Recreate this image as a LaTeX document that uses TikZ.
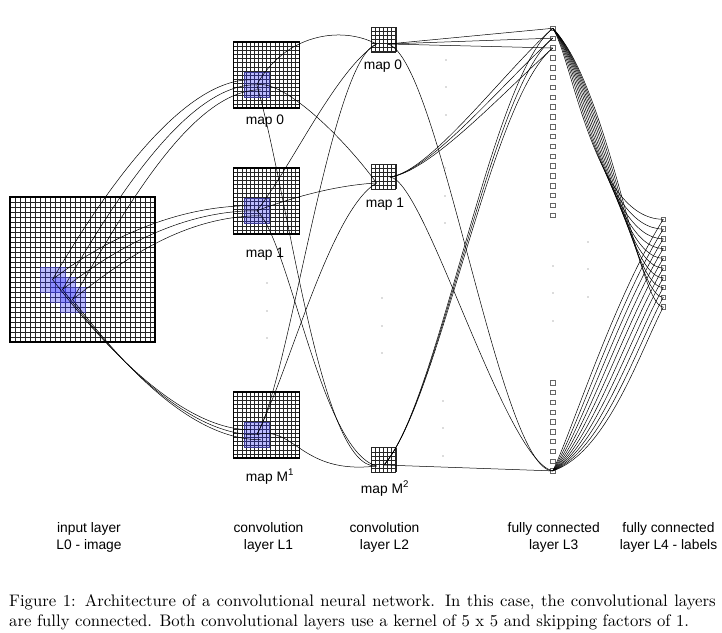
\documentclass[tikz,border=0pt]{standalone}
\usepackage{fontspec}
\newfontfamily\labfont{Liberation Sans}
\newfontfamily\capfont{lmroman10-regular}[Extension=.otf]
\usetikzlibrary{calc}
\begin{document}
\begin{tikzpicture}[x=1pt,y=-1pt,
  gridln/.style={black!85, line width=0.5pt},
  bigframe/.style={draw=black, line width=1.6pt},
  smallframe/.style={draw=black!85, line width=0.9pt},
  kern/.style={fill=blue!80, fill opacity=0.33, draw={rgb,255:red,60;green,60;blue,150}, line width=0.7pt},
  conn/.style={line width=0.5pt, black},
  neuron/.style={draw=black!60, line width=0.7pt, minimum size=4.5pt, inner sep=0pt},
  dotn/.style={circle, fill=black!60, inner sep=0pt, minimum size=1.1pt},
  lab/.style={font=\labfont\fontsize{13.8}{16}\selectfont, inner sep=0pt, anchor=base},
  captext/.style={font=\capfont\fontsize{16.7}{19}\selectfont, inner sep=0pt, anchor=base west},
]
\useasboundingbox (0,0) rectangle (722,632);

% ---------- input layer grid ----------
\foreach \i in {0,...,29} {
  \draw[gridln] ({10+5*\i},197) -- ({10+5*\i},342);
  \draw[gridln] (10,{197+5*\i}) -- (155,{197+5*\i});
}
\draw[bigframe] (10,197) rectangle (155,342);
\draw[kern] (40,267) rectangle ++(25,25);
\draw[kern] (50,277) rectangle ++(25,25);
\draw[kern] (60,287) rectangle ++(25,25);

% ---------- L1 maps ----------
\foreach \yo in {42,168,392} {
  \foreach \i in {0,...,16} {
    \draw[gridln] ({233.5+4.125*\i},\yo) -- ({233.5+4.125*\i},{\yo+66});
    \draw[gridln] (233.5,{\yo+4.125*\i}) -- (299.5,{\yo+4.125*\i});
  }
  \draw[bigframe] (233.5,\yo) rectangle (299.5,{\yo+66});
  \draw[kern] (244.5,{\yo+30.5}) rectangle ++(24.5,24.5);
}

% ---------- L2 maps ----------
\foreach \yo in {27,164.3,447.7} {
  \foreach \i in {0,...,6} {
    \draw[gridln] ({371+4.125*\i},\yo) -- ({371+4.125*\i},{\yo+24.75});
    \draw[gridln] (371,{\yo+4.125*\i}) -- (395.75,{\yo+4.125*\i});
  }
  \draw[smallframe] (371,\yo) rectangle (395.75,{\yo+24.75});
}

% ---------- L3 and L4 neurons ----------
\foreach \i in {0,...,19} \node[neuron] (t\i) at (552.7,{28.3+9.84*\i}) {};
\foreach \j in {0,...,9} \node[neuron] (b\j) at (552.7,{382.7+9.8*\j}) {};
\foreach \k in {0,...,9} \node[neuron] (u\k) at (663.3,{219.3+9.75*\k}) {};

% ---------- connection points ----------
\coordinate (s1) at (52.5,279.5);
\coordinate (s2) at (62.5,289.5);
\coordinate (s3) at (72.5,299.5);
\coordinate (cA) at (256.75,84.75);
\coordinate (cB) at (256.75,210.75);
\coordinate (cC) at (256.75,434.75);
\foreach \m in {A,B,C} {
  \coordinate (e\m1) at ($(c\m)+(-6,-5)$);
  \coordinate (e\m2) at ($(c\m)+(-1,0)$);
  \coordinate (e\m3) at ($(c\m)+(4,5)$);
}
\coordinate (dA) at (376.5,44);
\coordinate (dB) at (376.5,183);
\coordinate (dC) at (376.5,466);
\coordinate (oA) at (388,44);
\coordinate (oB) at (390,177);
\coordinate (oC) at (384,465);

% ---------- input -> L1 ----------
\foreach \i in {1,2,3} {
  \draw[conn] (s\i) .. controls ($(s\i)+(50,-85)$) and ($(eA\i)+(-70,0)$) .. (eA\i);
  \draw[conn] (s\i) .. controls ($(s\i)+(45,-35)$) and ($(eB\i)+(-80,0)$) .. (eB\i);
  \draw[conn] (s\i) .. controls ($(s\i)+(50,65)$) and ($(eC\i)+(-70,0)$) .. (eC\i);
}

% ---------- L1 -> L2 ----------
\draw[conn] (cA) .. controls ($(cA)+(28,-50)$) and ($(dA)+(-36,-19)$) .. (dA);
\draw[conn] (cA) .. controls ($(cA)+(28,-5)$) and ($(dB)+(-31,-43)$) .. (dB);
\draw[conn] (cA) .. controls ($(cA)+(33,115)$) and ($(dC)+(-56,4)$) .. (dC);
\draw[conn] (cB) .. controls ($(cB)+(33,-41)$) and ($(dA)+(-41,26)$) .. (dA);
\draw[conn] (cB) .. controls ($(cB)+(43,-16)$) and ($(dB)+(-36,2)$) .. (dB);
\draw[conn] (cB) .. controls ($(cB)+(33,29)$) and ($(dC)+(-56,-16)$) .. (dC);
\draw[conn] (cC) .. controls ($(cC)+(33,-55)$) and ($(dA)+(-46,16)$) .. (dA);
\draw[conn] (cC) .. controls ($(cC)+(33,-65)$) and ($(dB)+(-46,27)$) .. (dB);
\draw[conn] (cC) .. controls ($(cC)+(38,-10)$) and ($(dC)+(-76,9)$) .. (dC);

% ---------- L2 -> L3 ----------
\foreach \j in {0,1,2} {
  \draw[conn] (oA) -- (t\j.center);
  \draw[conn] (oB) .. controls ($(oB)+(40,-5)$) and ($(t\j.center)+(-50,45)$) .. (t\j.center);
  \draw[conn] (oC) .. controls ($(oC)+(56,-65)$) and ($(t\j.center)+(-63,52)$) .. (t\j.center);
}
\draw[conn] (oA) .. controls ($(oA)+(52,16)$) and ($(b9.center)+(-53,0)$) .. (b9.center);
\draw[conn] (oB) .. controls ($(oB)+(35,3)$) and ($(b9.center)+(-48,-11)$) .. (b9.center);
\draw[conn] (oC) -- (b9.center);

% ---------- L3 -> L4 ----------
\foreach \k in {0,...,9} {
  \draw[conn] (t0.center) .. controls ($(t0.center)+({20+4*\k},{30+3*\k})$) and ($(u\k.center)+({-70+5*\k},0)$) .. (u\k.center);
  \draw[conn] (b9.center) .. controls ($(b9.center)+({18+4*\k},{-36+2*\k})$) and ($(u\k.center)+({-50+3*\k},{80-4*\k})$) .. (u\k.center);
}

% ---------- dots ----------
\foreach \p [count=\n] in {(267,283),(267,311),(267,338),(382,298),(382,326),(382,353),
  (446,60),(446,87),(446,115),(445,168),(445,196),(445,223),(443,401),(443,428),(443,456),
  (553,266),(553,293),(553,321),(588,242),(588,269),(588,297)}
  \node[dotn] (dot\n) at \p {};

% ---------- labels ----------
\node[lab] (lA) at (265,124) {map 0};
\node[lab] (lB) at (265,257) {map 1};
\node[lab] (lC) at (270,481) {map M\textsuperscript{1}};
\node[lab] (mA) at (383,69) {map 0};
\node[lab] (mB) at (385,207.5) {map 1};
\node[lab] (mC) at (385,493) {map M\textsuperscript{2}};

\node[lab] (ll0a) at (89,532.5) {input layer};
\node[lab] (ll0b) at (89,549.5) {L0 - image};
\node[lab] (ll1a) at (268.5,532.5) {convolution};
\node[lab] (ll1b) at (268.5,549.5) {layer L1};
\node[lab] (ll2a) at (384.5,532.5) {convolution};
\node[lab] (ll2b) at (384.5,549.5) {layer L2};
\node[lab] (ll3a) at (553.7,532.5) {fully connected};
\node[lab] (ll3b) at (553.7,549.5) {layer L3};
\node[lab] (ll4a) at (668.5,532.5) {fully connected};
\node[lab] (ll4b) at (668.5,549.5) {layer L4 - labels};

\node[captext] (cap1) at (9,606) {\makebox[706.5pt][s]{Figure 1: Architecture of a convolutional neural network. In this case, the convolutional layers}};
\node[captext] (cap2) at (9,626) {are fully connected. Both convolutional layers use a kernel of 5 x 5 and skipping factors of 1.};
\end{tikzpicture}
\end{document}
